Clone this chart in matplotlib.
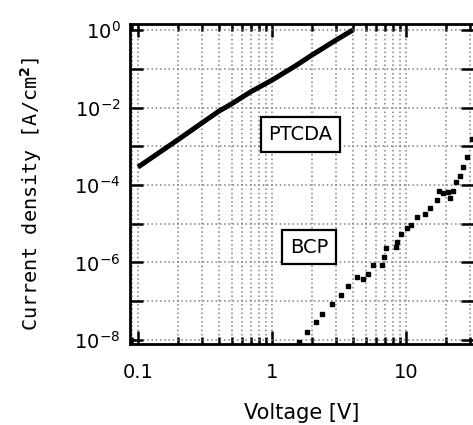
import numpy as np
import matplotlib
matplotlib.use('Agg')
import matplotlib.pyplot as plt
from matplotlib.ticker import LogLocator, NullLocator, NullFormatter

plt.rcParams['font.family'] = 'DejaVu Sans'

# PTCDA (solid line)
ptcda_v = [0.1, 0.15, 0.2, 0.3, 0.4, 0.5, 0.7, 1.0, 1.5, 2.0, 3.0, 4.0]
ptcda_j = [2.9e-4, 7.6e-4, 1.5e-3, 4.0e-3, 8.0e-3, 1.25e-2, 2.6e-2, 5.1e-2,
           0.12, 0.23, 0.55, 1.0]

# BCP (square points)
bcp_v = [1.59, 1.82, 2.12, 2.37, 2.79, 3.26, 3.71, 4.28, 4.80, 5.17, 5.64,
         6.59, 6.89, 7.10, 8.37, 8.61, 9.12, 10.1, 10.9, 12.0, 13.9, 15.1,
         16.9, 17.7, 19.0, 20.6, 21.3, 22.3, 23.5, 25.3, 26.5, 28.7, 30.9]
bcp_j = [9.1e-9, 1.63e-8, 2.88e-8, 4.8e-8, 8.3e-8, 1.45e-7, 2.46e-7, 4.3e-7,
         3.7e-7, 5.0e-7, 8.7e-7, 8.7e-7, 1.41e-6, 2.4e-6, 2.57e-6, 3.3e-6,
         5.6e-6, 7.6e-6, 9.3e-6, 1.47e-5, 1.83e-5, 2.6e-5, 4.0e-5, 7.0e-5,
         6.2e-5, 6.7e-5, 4.6e-5, 7.0e-5, 1.23e-4, 1.7e-4, 3.0e-4, 5.4e-4, 1.5e-3]

x_ticks = [0.1, 1, 10]
x_labels = ['0.1', '1', '10']
y_exps = list(range(-8, 1))
y_ticks = [10.0 ** e for e in y_exps]
y_labels = [r'$\mathdefault{10^{%d}}$' % e if e % 2 == 0 else '' for e in y_exps]

fig = plt.figure(figsize=(4.73, 4.25), dpi=100)
ax = fig.add_axes([130/473, 81/425, 344/473, 320/425])

ax.plot(ptcda_v, ptcda_j, color='black', lw=3.6, solid_capstyle='butt', zorder=3)
ax.plot(bcp_v, bcp_j, ls='none', marker='s', ms=3, color='black', zorder=3)

ax.set_xscale('log')
ax.set_yscale('log')
ax.set_xlim(0.0871, 32.1)
ax.set_ylim(7.88e-9, 1.43)

ax.set_xticks(x_ticks)
ax.set_xticklabels(x_labels)
ax.xaxis.set_minor_locator(LogLocator(base=10, subs=np.arange(2, 10)))
ax.xaxis.set_minor_formatter(NullFormatter())
ax.set_yticks(y_ticks)
ax.set_yticklabels(y_labels)
ax.yaxis.set_minor_locator(NullLocator())

ax.tick_params(which='both', direction='in', top=True, right=True, width=1.8,
               labelsize=14)
ax.tick_params(which='major', length=9.5)
ax.tick_params(which='minor', length=5)
ax.tick_params(axis='x', pad=14)
ax.tick_params(axis='y', pad=7)

ax.grid(True, which='both', axis='x', color='0.5', ls=(0, (1, 1.8)), lw=1.1)
ax.grid(True, which='major', axis='y', color='0.5', ls=(0, (1, 1.8)), lw=1.1)
ax.set_axisbelow(True)

for s in ax.spines.values():
    s.set_linewidth(2)

ax.text(1.63, 2.0e-3, 'PTCDA', fontsize=14, ha='center', va='center', zorder=4,
        bbox=dict(boxstyle='square,pad=0.4', fc='white', ec='black', lw=1.6))
ax.text(1.89, 2.5e-6, 'BCP', fontsize=14, ha='center', va='center', zorder=4,
        bbox=dict(boxstyle='square,pad=0.4', fc='white', ec='black', lw=1.6))

ax.set_xlabel('Voltage [V]', fontsize=15, va='top')
ax.xaxis.set_label_coords(0.5, -0.185)
ax.set_ylabel(r'Current density [A/cm$^\mathbf{2}$]', fontsize=14.5,
              family='DejaVu Sans Mono')
ax.yaxis.set_label_coords(-0.25, 0.47)

fig.savefig('out.png', dpi=100)
